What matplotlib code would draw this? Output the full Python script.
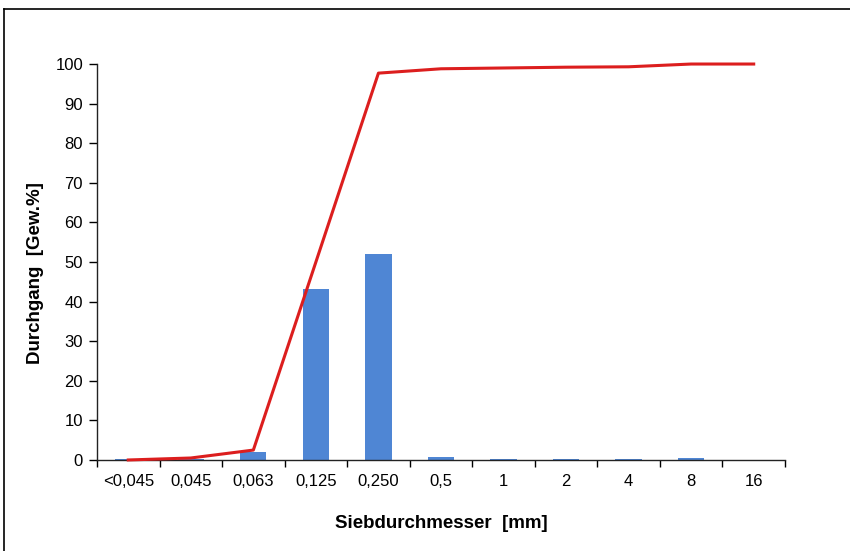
import matplotlib
matplotlib.use('Agg')
import matplotlib.pyplot as plt
import numpy as np
from matplotlib.lines import Line2D

plt.rcParams['font.family'] = ['Liberation Sans', 'DejaVu Sans']

labels = ['<0,045', '0,045', '0,063', '0,125', '0,250', '0,5', '1', '2', '4', '8', '16']
anteil = [0.3, 0.3, 2.0, 43.3, 52.0, 0.8, 0.3, 0.3, 0.3, 0.4, 0.0]
durchgang = [0.0, 0.5, 2.5, 50.0, 97.7, 98.8, 99.0, 99.2, 99.3, 100.0, 100.0]

fig = plt.figure(figsize=(8.5, 5.51), dpi=100)
ax = fig.add_axes([0.1141, 0.1652, 0.8094, 0.7186])

x = np.arange(len(labels))
ax.bar(x, anteil, width=0.42, color='#4F86D4', zorder=2)
ax.plot(x, durchgang, color='#DC1E1E', linewidth=2.2, zorder=3, clip_on=False)

ax.set_xlim(-0.5, len(labels) - 0.5)
ax.set_ylim(0, 100)
ax.set_yticks(np.arange(0, 101, 10))

# tick marks between categories, labels centred
ax.set_xticks(np.arange(-0.5, len(labels), 1.0))
ax.set_xticklabels([])
ax.set_xticks(x, minor=True)
ax.set_xticklabels(labels, minor=True)
ax.tick_params(axis='x', which='minor', length=0, pad=10, labelsize=12)
ax.tick_params(axis='x', which='major', length=5, width=1, direction='out')
ax.tick_params(axis='y', length=6, width=1, direction='out', pad=4, labelsize=12)

for s in ['top', 'right']:
    ax.spines[s].set_visible(False)
for s in ['left', 'bottom']:
    ax.spines[s].set_color('#222222')
    ax.spines[s].set_linewidth(1.0)

ax.set_xlabel('Siebdurchmesser  [mm]', fontsize=13.5, fontweight='bold', labelpad=19)
ax.set_ylabel('Durchgang  [Gew.%]', fontsize=13.5, fontweight='bold')
ax.yaxis.set_label_coords(-0.077, 0.472)

# frame of the chart area (left and top edge visible)
fig.add_artist(Line2D([0.005, 0.005], [0.0, 0.984], transform=fig.transFigure, color='black', linewidth=1.2))
fig.add_artist(Line2D([0.005, 1.0], [0.984, 0.984], transform=fig.transFigure, color='black', linewidth=1.2))

fig.savefig('out.png', dpi=100)
